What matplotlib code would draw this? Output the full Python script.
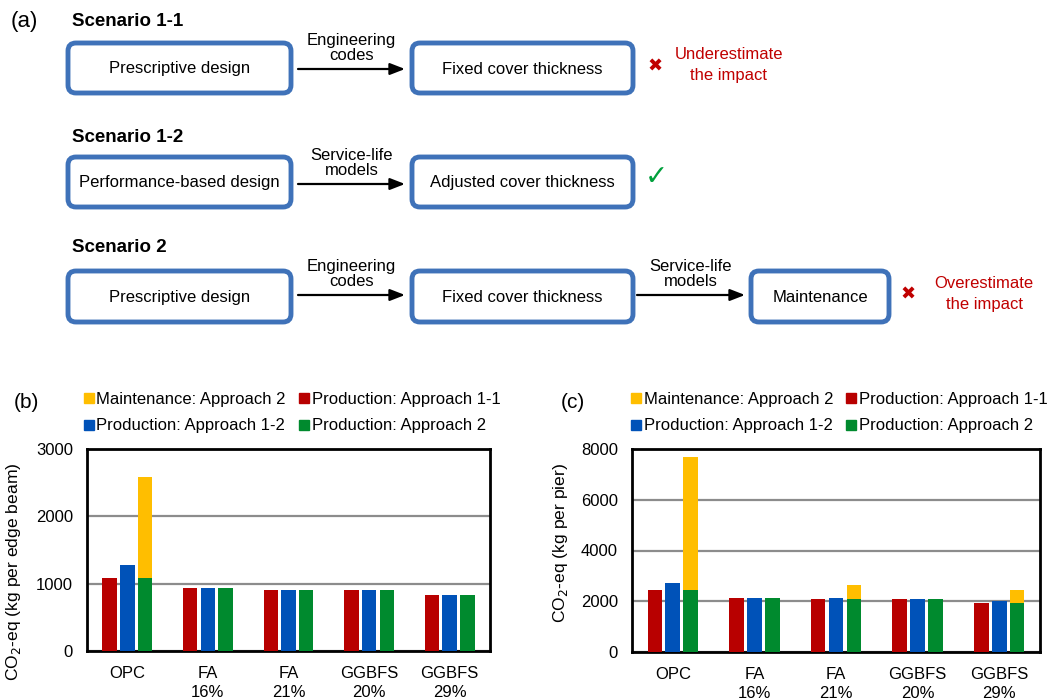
import matplotlib
matplotlib.use("Agg")
import matplotlib.pyplot as plt
from matplotlib.patches import FancyBboxPatch
from matplotlib.lines import Line2D
import numpy as np

plt.rcParams['font.family'] = ['Liberation Sans', 'DejaVu Sans']

# ---------------- data ----------------
categories = ["OPC", "FA\n16%", "FA\n21%", "GGBFS\n20%", "GGBFS\n29%"]

# (b) edge beam, kg CO2-eq
b_prod_11 = [1080, 930, 910, 905, 835]
b_prod_12 = [1275, 930, 910, 905, 835]
b_prod_2 = [1080, 930, 910, 905, 835]
b_maint_2 = [1510, 0, 0, 0, 0]

# (c) pier, kg CO2-eq
c_prod_11 = [2430, 2140, 2105, 2100, 1945]
c_prod_12 = [2700, 2140, 2145, 2100, 2010]
c_prod_2 = [2430, 2140, 2105, 2100, 1945]
c_maint_2 = [5240, 0, 540, 0, 490]

legend_labels = ["Maintenance: Approach 2", "Production: Approach 1-1",
                 "Production: Approach 1-2", "Production: Approach 2"]

C_RED = "#B80000"
C_BLUE = "#0052B8"
C_GREEN = "#008A2E"
C_YEL = "#FFBE00"
C_BOX = "#3F72B9"
C_TXTRED = "#C00000"

fig = plt.figure(figsize=(10.56, 7.0), dpi=100)

# ---------------- panel (a): flow diagram ----------------
axd = fig.add_axes([0, 0, 1, 1])
axd.set_xlim(0, 1056)
axd.set_ylim(700, 0)
axd.axis("off")

FS = 12

def box(x0, x1, y0, y1, text):
    p = FancyBboxPatch((x0 + 5, y0 + 5), (x1 - x0) - 10, (y1 - y0) - 10,
                       boxstyle="round,pad=5,rounding_size=8",
                       linewidth=3.5, edgecolor=C_BOX, facecolor="white")
    axd.add_patch(p)
    axd.text((x0 + x1) / 2, (y0 + y1) / 2 + 1, text, ha="center", va="center",
             fontsize=FS)

def arrow(x0, x1, y, label):
    axd.annotate("", xy=(x1, y), xytext=(x0, y),
                 arrowprops=dict(arrowstyle="-|>,head_length=0.9,head_width=0.35",
                                 lw=1.6, color="black", shrinkA=0, shrinkB=0))
    axd.text((x0 + x1) / 2, y - 21, label, ha="center", va="center",
             fontsize=FS, linespacing=0.95)

axd.text(11, 22, "(a)", fontsize=16, va="center", ha="left")

rows = [(22, "Scenario 1-1"), (137, "Scenario 1-2"), (248, "Scenario 2")]
for ty, t in rows:
    axd.text(72, ty, t, fontsize=13.5, fontweight="bold", va="center", ha="left")

box(68, 291, 43, 93, "Prescriptive design")
box(412, 633, 43, 93, "Fixed cover thickness")
arrow(298, 405, 69, "Engineering\ncodes")
axd.text(655, 67, "\u2716", color=C_TXTRED, fontsize=13, ha="center", va="center",
         family=["DejaVu Sans"])
axd.text(729, 65, "Underestimate\nthe impact", color=C_TXTRED, fontsize=FS,
         ha="center", va="center", linespacing=1.5)

box(68, 291, 157, 207, "Performance-based design")
box(412, 633, 157, 207, "Adjusted cover thickness")
arrow(298, 405, 184, "Service-life\nmodels")
axd.text(656, 177, "\u2713", color="#00A03C", fontsize=20, fontweight="bold",
         ha="center", va="center", family=["DejaVu Sans"])

box(68, 291, 271, 322, "Prescriptive design")
box(412, 633, 271, 322, "Fixed cover thickness")
box(751, 889, 271, 322, "Maintenance")
arrow(298, 405, 295, "Engineering\ncodes")
arrow(637, 745, 295, "Service-life\nmodels")
axd.text(908, 295, "\u2716", color=C_TXTRED, fontsize=13, ha="center", va="center",
         family=["DejaVu Sans"])
axd.text(984, 294, "Overestimate\nthe impact", color=C_TXTRED, fontsize=FS,
         ha="center", va="center", linespacing=1.5)

# ---------------- bar panels ----------------
def bar_panel(rect, p11, p12, p2, m2, ymax, ystep, ylabel, ylab_xy, tag, tag_x, leg_x):
    ax = fig.add_axes(rect)
    x = np.arange(len(categories))
    w = 0.18
    off = 0.22
    ax.bar(x - off, p11, w, color=C_RED, zorder=3)
    ax.bar(x, p12, w, color=C_BLUE, zorder=3)
    ax.bar(x + off, p2, w, color=C_GREEN, zorder=3)
    ax.bar(x + off, m2, w, bottom=p2, color=C_YEL, zorder=3)
    ax.set_xlim(-0.5, len(categories) - 0.5)
    ax.set_ylim(0, ymax)
    ax.set_yticks(np.arange(0, ymax + 1, ystep))
    ax.set_xticks(x)
    ax.set_xticklabels(categories, fontsize=12, linespacing=1.3)
    ax.tick_params(axis="both", length=0, labelsize=12)
    ax.tick_params(axis="x", pad=11)
    ax.tick_params(axis="y", pad=10)
    ax.yaxis.grid(True, color="#8C8C8C", linewidth=1.6, zorder=0)
    ax.set_axisbelow(True)
    for s in ax.spines.values():
        s.set_linewidth(2.0)
        s.set_color("black")
    ax.set_ylabel(ylabel, fontsize=12.6)
    ax.yaxis.set_label_coords(ylab_xy[0], ylab_xy[1])
    fig.text(tag_x, 1 - 403 / 700, tag, fontsize=15, va="center", ha="left")
    handles = [Line2D([], [], marker="s", linestyle="none", markersize=6.5,
                      color=c) for c in (C_YEL, C_BLUE, C_RED, C_GREEN)]
    labels = [legend_labels[0], legend_labels[2], legend_labels[1], legend_labels[3]]
    fig.legend(handles, labels, ncol=2, loc="upper left",
               bbox_to_anchor=(leg_x, 1 - 392 / 700), frameon=False, fontsize=12,
               handlelength=0.6, handletextpad=0.15, columnspacing=0.8,
               labelspacing=0.68, borderpad=0, borderaxespad=0)
    return ax

bar_panel([87 / 1056, 49 / 700, 403 / 1056, 202 / 700],
          b_prod_11, b_prod_12, b_prod_2, b_maint_2, 3000, 1000,
          "CO$_2$-eq (kg per edge beam)", (-0.16, 0.395), "(b)", 14 / 1056,
          84 / 1056)
bar_panel([632 / 1056, 48 / 700, 408 / 1056, 203 / 700],
          c_prod_11, c_prod_12, c_prod_2, c_maint_2, 8000, 2000,
          "CO$_2$-eq (kg per pier)", (-0.152, 0.54), "(c)", 561 / 1056,
          631 / 1056)

fig.savefig("out.png", dpi=100)
